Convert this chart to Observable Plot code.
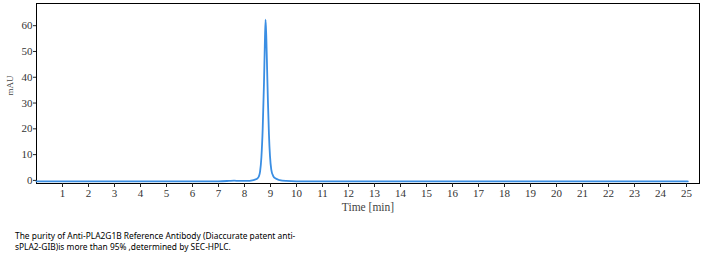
<!DOCTYPE html>
<html>
<head>
<meta charset="utf-8">
<script src="https://cdn.jsdelivr.net/npm/d3@7"></script>
<script src="https://cdn.jsdelivr.net/npm/@observablehq/plot@0.6"></script>
<style>
  html, body { margin: 0; padding: 0; background: #fff; }
  #chart { width: 707px; }
  #chart svg text { font-family: "Liberation Serif", "DejaVu Serif", serif; }
  .caption { font-family: "Noto Sans", "DejaVu Sans", sans-serif; font-size: 8.4px; line-height: 11px; color: #000; margin: 12px 0 0 15px; width: 300px; }
</style>
</head>
<body>
<div id="chart"></div>
<div class="caption">The purity of Anti-PLA2G1B Reference Antibody (Diaccurate patent anti-<br>sPLA2-GIB)is more than 95% ,determined by SEC-HPLC.</div>
<script>
const timeMin = [0, 2, 4, 6, 7.0, 7.4, 7.6, 7.8, 8.1, 8.3, 8.4, 8.5, 8.55, 8.6, 8.65, 8.7, 8.75, 8.78, 8.81, 8.84, 8.87, 8.9, 8.94, 8.98, 9.03, 9.1, 9.2, 9.35, 9.6, 10, 12, 14, 16, 18, 20, 22, 23, 25.05];
const mAU =     [-0.4, -0.4, -0.4, -0.4, -0.35, -0.2, -0.1, -0.2, -0.2, 0.0, 0.3, 0.8, 1.5, 3.5, 9, 20, 38, 52, 62.3, 55, 43, 31, 18, 9.5, 4.2, 1.8, 0.7, 0.15, -0.2, -0.35, -0.4, -0.35, -0.4, -0.4, -0.4, -0.4, -0.35, -0.4];
const xTicks = d3.range(1, 26);
const yTicks = [0, 10, 20, 30, 40, 50, 60];
const xLabel = "Time [min]";
const yLabel = "mAU";

const data = timeMin.map((t, i) => ({t, v: mAU[i]}));

const chart = Plot.plot({
  width: 707,
  height: 218,
  marginLeft: 36,
  marginRight: 8,
  marginTop: 3,
  marginBottom: 35,
  style: {fontFamily: "'Liberation Serif', 'DejaVu Serif', serif", fontSize: "11px", background: "#fff", color: "#333"},
  x: {domain: [0, 25.5]},
  y: {domain: [-1.2, 68.6]},
  marks: [
    Plot.frame({stroke: "#000", strokeWidth: 1}),
    Plot.axisX({ticks: xTicks, tickSize: 4, tickPadding: 2, label: null, tickFormat: d => d, stroke: "#222"}),
    Plot.axisY({ticks: yTicks, tickSize: 3, tickPadding: 1, label: null, tickFormat: d => d, stroke: "#222"}),
    Plot.text([xLabel], {frameAnchor: "bottom", dy: 27, fontSize: 11.5, fill: "#444"}),
    Plot.text([yLabel], {frameAnchor: "left", dx: -26, dy: 2, rotate: -90, fontSize: 9, fill: "#444"}),
    Plot.line(data, {x: "t", y: "v", stroke: "#3a8ee3", strokeWidth: 1.8, curve: "monotone-x"})
  ]
});
document.getElementById("chart").appendChild(chart);
</script>
</body>
</html>
